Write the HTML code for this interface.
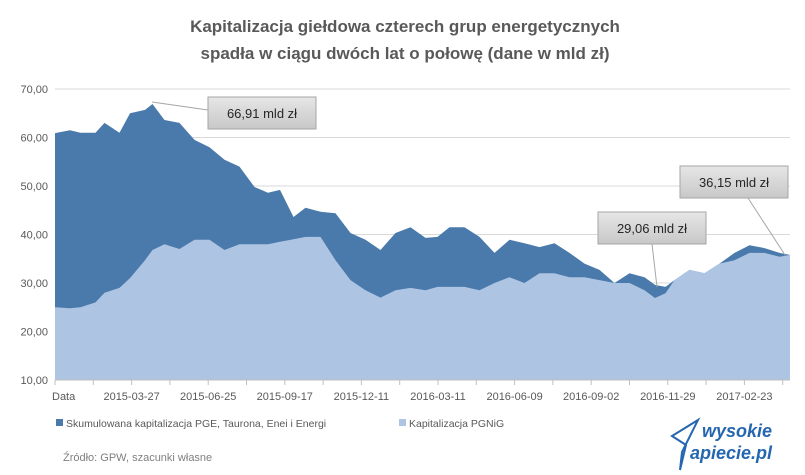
<!DOCTYPE html>
<html><head><meta charset="utf-8"><style>
body{margin:0;background:#fff;}
svg{display:block;font-family:"Liberation Sans",sans-serif;}
</style></head><body>
<svg id="chart" width="805" height="475" viewBox="0 0 805 475">
<defs><linearGradient id="bx" x1="0" y1="0" x2="0" y2="1"><stop offset="0" stop-color="#e6e6e6"/><stop offset="1" stop-color="#c8c8c8"/></linearGradient></defs>
<text x="405" y="32" text-anchor="middle" font-size="17" font-weight="bold" fill="#595959">Kapitalizacja giełdowa czterech grup energetycznych</text>
<text x="405" y="59" text-anchor="middle" font-size="17" font-weight="bold" fill="#595959">spadła w ciągu dwóch lat o połowę (dane w mld zł)</text>
<g id="grid"></g><g id="areas"></g><g id="axes"></g><g id="notes"></g>
<g>
<rect x="56" y="419" width="7" height="7" fill="#4a7aab"/>
<text x="66" y="427" font-size="10.5" fill="#595959">Skumulowana kapitalizacja PGE, Taurona, Enei i Energi</text>
<rect x="399" y="419" width="7" height="7" fill="#adc4e3"/>
<text x="409" y="427" font-size="10.5" fill="#595959">Kapitalizacja PGNiG</text>
</g>
<text x="63" y="461" font-size="11" fill="#7f7f7f">Źródło: GPW, szacunki własne</text>
<g>
<path d="M680 470 L686 445 L672 436 L698 420 L682 452 Z" fill="none" stroke="#2566b0" stroke-width="2"/>
<text x="702" y="437" font-size="18" font-weight="bold" fill="#2566b0" font-style="italic">wysokie</text>
<text x="690" y="459" font-size="18" font-weight="bold" fill="#2566b0" font-style="italic">apiecie.pl</text>
</g>
</svg>
<script>
const days=[0,10,17,27,33,43,50,60,65,73,83,93,103,113,123,133,142,150,159,167,177,187,197,207,217,227,237,247,255,263,273,283,293,303,313,323,333,343,353,363,373,383,393,400,407,413,423,433,443,453,463,473,483,490];
const energyValues=[60.9,61.5,61,61,63,61,65,65.7,66.9,63.6,63,59.5,58,55.4,54,49.8,48.6,49.2,43.6,45.5,44.7,44.4,40.3,38.9,36.8,40.3,41.5,39.3,39.5,41.5,41.5,39.5,36.2,38.9,38.2,37.4,38.2,36.2,34,32.7,30,32,31.2,29.6,29.2,30.6,32.7,32,34,36.2,37.8,37.2,36.2,35.8];
const pgnigValues=[25,24.8,25,26,28,29,31,34.7,36.8,38,37,38.9,38.9,36.8,38,38,38,38.5,39,39.5,39.5,34.7,30.6,28.5,27,28.5,29,28.5,29.2,29.2,29.2,28.5,30,31.2,30,32,32,31.2,31.2,30.6,30,30,28.5,26.9,27.9,30.6,32.7,32,34,34.7,36.2,36.2,35.4,35.8];
const yTicks=[10,20,30,40,50,60,70];
const yTickLabels=["10,00","20,00","30,00","40,00","50,00","60,00","70,00"];
const xLabels=["Data","2015-03-27","2015-06-25","2015-09-17","2015-12-11","2016-03-11","2016-06-09","2016-09-02","2016-11-29","2017-02-23"];
const X0=55,X1=790,Y0=380,Y1=89;
const xs=d=>X0+(d/490)*(X1-X0);
const ys=v=>Y0-(v-10)/60*(Y0-Y1);
const NS="http://www.w3.org/2000/svg";
function mk(t,a,p){const e=document.createElementNS(NS,t);for(const k in a)e.setAttribute(k,a[k]);p.appendChild(e);return e;}
const grid=document.getElementById('grid'),areas=document.getElementById('areas'),axes=document.getElementById('axes'),notes=document.getElementById('notes');
yTicks.forEach((v,i)=>{
 const l=mk('line',{x1:X0,x2:X1,y1:ys(v),y2:ys(v),stroke:'#d9d9d9','stroke-width':1},grid);
 
 
 const t=mk('text',{x:48,y:ys(v)+4,'text-anchor':'end','font-size':11,fill:'#595959'},axes);
 t.textContent=yTickLabels[i];
 
 
});
function area(vals,fill,name){
 let d='M'+xs(days[0])+','+Y0;
 vals.forEach((v,i)=>{d+=' L'+xs(days[i]).toFixed(1)+','+ys(v).toFixed(1);});
 d+=' L'+xs(days[days.length-1])+','+Y0+' Z';
 const p=mk('path',{d:d,fill:fill},areas);
 
 
}
area(energyValues,'#4a7aab','area-energy-groups');
area(pgnigValues,'#adc4e3','area-pgnig');
const ax=mk('line',{x1:X0,x2:X1,y1:Y0,y2:Y0,stroke:'#bfbfbf'},axes);


for(let i=0;i<20;i++){const x=X0+i*38.3;if(x>X1)break;
 const tk=mk('line',{x1:x,x2:x,y1:Y0,y2:Y0+5,stroke:'#bfbfbf'},axes);
 
 }
xLabels.forEach((s,i)=>{
 const x=i==0?X0:X0+i*76.6;
 const t=mk('text',{x:i==0?X0-3:x,y:400,'text-anchor':i==0?'start':'middle','font-size':11,fill:'#595959'},axes);
 t.textContent=s;
 
 
});
function note(bx,by,txt,lx1,ly1,lx2,ly2,name){
 const ln=mk('line',{x1:lx1,y1:ly1,x2:lx2,y2:ly2,stroke:'#a6a6a6','stroke-width':1},notes);
 
 
 const r=mk('rect',{x:bx,y:by,width:108,height:32,fill:'url(#bx)',stroke:'#a6a6a6'},notes);
 
 
 const t=mk('text',{x:bx+54,y:by+21,'text-anchor':'middle','font-size':13,fill:'#262626'},notes);
 t.textContent=txt;
 
 
}
note(208,97,'66,91 mld zł',208,110,152,102,'peak-annotation');
note(598,212,'29,06 mld zł',652,244,657,287,'low-annotation');
note(680,166,'36,15 mld zł',748,198,785,255,'latest-annotation');
</script>
</body></html>
